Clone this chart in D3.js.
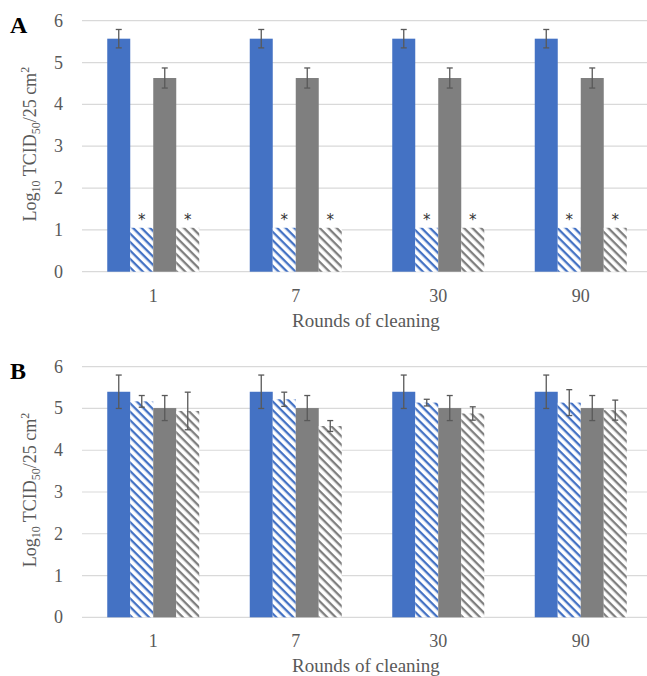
<!DOCTYPE html>
<html>
<head>
<meta charset="utf-8">
<script src="https://cdn.jsdelivr.net/npm/d3@7"></script>
<style>
  body { margin: 0; background: #fff; }
</style>
</head>
<body>
<svg id="chart"></svg>
<script>
// figure size
var w = 647;
var h = 676;
var serif = "'Liberation Serif', 'Times New Roman', serif";

// categories
var rounds = ["1", "7", "30", "90"];
var yTicks = [0, 1, 2, 3, 4, 5, 6];

// panel A means / errors (log10 TCID50/25 cm2)
var aBlue = [5.57, 5.57, 5.57, 5.57];
var aBlueErr = [0.22, 0.22, 0.22, 0.22];
var aBlueHatch = [1.05, 1.05, 1.05, 1.05];
var aBlueHatchErr = [0, 0, 0, 0];
var aGray = [4.63, 4.63, 4.63, 4.63];
var aGrayErr = [0.24, 0.24, 0.24, 0.24];
var aGrayHatch = [1.05, 1.05, 1.05, 1.05];
var aGrayHatchErr = [0, 0, 0, 0];
var aStars = [false, true, false, true]; // asterisk above series

// panel B means / errors
var bBlue = [5.40, 5.40, 5.40, 5.40];
var bBlueErr = [0.40, 0.40, 0.40, 0.40];
var bBlueHatch = [5.17, 5.22, 5.14, 5.14];
var bBlueHatchErr = [0.14, 0.17, 0.08, 0.31];
var bGray = [5.01, 5.01, 5.01, 5.01];
var bGrayErr = [0.30, 0.30, 0.30, 0.30];
var bGrayHatch = [4.94, 4.58, 4.88, 4.96];
var bGrayHatchErr = [0.45, 0.13, 0.16, 0.24];
var bStars = [false, false, false, false];

var blue = "#4472C4";
var gray = "#7F7F7F";
var fills = [blue, "url(#hatchBlue)", gray, "url(#hatchGray)"];

var svg = d3.select("#chart").attr("width", w).attr("height", h)
  .style("display", "block");

// hatch patterns (wide downward diagonal)
var defs = svg.append("defs");
[["hatchBlue", blue], ["hatchGray", gray]].forEach(function (p) {
  var pat = defs.append("pattern")
    .attr("id", p[0])
    .attr("patternUnits", "userSpaceOnUse")
    .attr("width", 6).attr("height", 6)
    .attr("patternTransform", "rotate(45)");
  pat.append("rect").attr("width", 6).attr("height", 6).attr("fill", "#fff");
  pat.append("rect").attr("width", 6).attr("height", 2.3).attr("fill", p[1]);
});

var x0 = d3.scaleBand().domain(rounds).range([82, 652]);
var groupW = 92;
var x1 = d3.scaleBand().domain([0, 1, 2, 3])
  .range([(x0.bandwidth() - groupW) / 2, (x0.bandwidth() + groupW) / 2]);

function panel(letter, top, bottom, series, errs, stars) {
  var y = d3.scaleLinear().domain([0, 6]).range([bottom, top]);
  var g = svg.append("g").attr("font-family", serif);

  // gridlines
  g.selectAll(".grid").data(yTicks).enter().append("line")
    .attr("x1", 82).attr("x2", w)
    .attr("y1", function (d) { return y(d); })
    .attr("y2", function (d) { return y(d); })
    .attr("stroke", "#D9D9D9").attr("stroke-width", 1.2);

  // y tick labels
  g.selectAll(".yt").data(yTicks).enter().append("text")
    .attr("x", 63).attr("y", function (d) { return y(d) + 6; })
    .attr("text-anchor", "end")
    .attr("font-family", serif)
    .attr("font-size", 18).attr("fill", "#595959")
    .text(function (d) { return d; });

  // bars
  rounds.forEach(function (r, i) {
    var gx = x0(r);
    series.forEach(function (s, j) {
      var bx = gx + x1(j);
      var bw = x1.bandwidth();
      g.append("rect")
        .attr("x", bx).attr("y", y(s[i]))
        .attr("width", bw).attr("height", y(0) - y(s[i]))
        .attr("fill", fills[j]);
      var e = errs[j][i];
      if (e > 0) {
        var cx = bx + bw / 2;
        var eg = g.append("g").attr("stroke", "#595959").attr("stroke-width", 1.3);
        eg.append("line").attr("x1", cx).attr("x2", cx)
          .attr("y1", y(s[i] + e)).attr("y2", y(s[i] - e));
        eg.append("line").attr("x1", cx - 3).attr("x2", cx + 3)
          .attr("y1", y(s[i] + e)).attr("y2", y(s[i] + e));
        eg.append("line").attr("x1", cx - 3).attr("x2", cx + 3)
          .attr("y1", y(s[i] - e)).attr("y2", y(s[i] - e));
      }
      if (stars[j]) {
        g.append("text")
          .attr("x", bx + bw / 2).attr("y", y(s[i]) - 3)
          .attr("text-anchor", "middle")
          .attr("font-family", "'DejaVu Sans', sans-serif")
          .attr("font-size", 15).attr("fill", "#333")
          .text("*");
      }
    });
    // x tick label
    g.append("text")
      .attr("x", gx + x0.bandwidth() / 2).attr("y", bottom + 30)
      .attr("text-anchor", "middle")
      .attr("font-family", serif)
      .attr("font-size", 18).attr("fill", "#595959")
      .text(r);
  });

  // x axis title
  g.append("text")
    .attr("x", 366).attr("y", bottom + 55)
    .attr("text-anchor", "middle")
    .attr("font-family", serif)
    .attr("font-size", 19).attr("fill", "#595959")
    .text("Rounds of cleaning");

  // y axis title
  var yl = g.append("text")
    .attr("transform", "translate(36," + ((top + bottom) / 2 - 2) + ") rotate(-90)")
    .attr("text-anchor", "middle")
    .attr("font-family", serif)
    .attr("font-size", 18).attr("fill", "#595959");
  yl.append("tspan").text("Log");
  yl.append("tspan").attr("dy", 4).attr("font-size", 12).text("10");
  yl.append("tspan").attr("dy", -4).text(" TCID");
  yl.append("tspan").attr("dy", 4).attr("font-size", 12).text("50");
  yl.append("tspan").attr("dy", -4).text("/25 cm");
  yl.append("tspan").attr("dy", -7).attr("font-size", 12).text("2");

  // panel letter
  g.append("text")
    .attr("x", 10).attr("y", top + 12)
    .attr("font-family", serif)
    .attr("font-size", 24).attr("font-weight", "bold").attr("fill", "#000")
    .text(letter);
}

panel("A", 20.7, 271.7,
  [aBlue, aBlueHatch, aGray, aGrayHatch],
  [aBlueErr, aBlueHatchErr, aGrayErr, aGrayHatchErr], aStars);
panel("B", 366.7, 617.3,
  [bBlue, bBlueHatch, bGray, bGrayHatch],
  [bBlueErr, bBlueHatchErr, bGrayErr, bGrayHatchErr], bStars);
</script>
</body>
</html>
